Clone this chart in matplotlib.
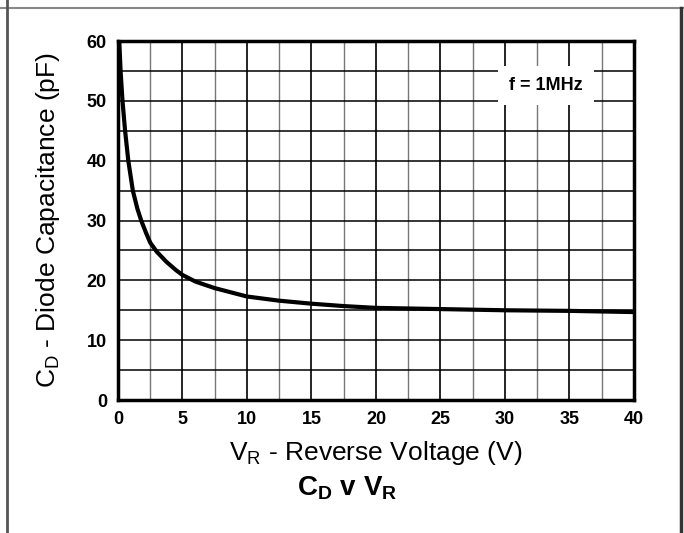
import matplotlib
matplotlib.use("Agg")
import matplotlib.pyplot as plt
from matplotlib.lines import Line2D

# values
voltage = [0.1, 0.2, 0.35, 0.55, 0.8, 1.15, 1.5, 1.8, 2.2, 2.5, 3.0, 3.75,
           4.5, 5.0, 6.0, 7.5, 10.0, 12.5, 15.0, 17.5, 20.0, 25.0, 30.0,
           35.0, 40.0]
capacitance = [60.0, 55.0, 50.0, 45.0, 40.0, 35.0, 32.0, 30.0, 27.8, 26.3,
               24.8, 23.1, 21.7, 20.9, 19.8, 18.7, 17.3, 16.6, 16.1, 15.7,
               15.4, 15.2, 15.0, 14.9, 14.7]
x_ticks = [0, 5, 10, 15, 20, 25, 30, 35, 40]
y_ticks = [0, 10, 20, 30, 40, 50, 60]

plt.rcParams['font.family'] = ['Liberation Sans', 'DejaVu Sans']
plt.rcParams['mathtext.fontset'] = 'custom'
plt.rcParams['mathtext.rm'] = 'Liberation Sans'
plt.rcParams['mathtext.bf'] = 'Liberation Sans:bold'

fig = plt.figure(figsize=(6.84, 5.33), dpi=100)
ax = fig.add_axes([0.1725, 0.2495, 0.7544, 0.6735])

ax.plot(voltage, capacitance, color='black', lw=3.0, solid_capstyle='butt',
        solid_joinstyle='round', zorder=3)

ax.set_xlim(0, 40)
ax.set_ylim(0, 60)
ax.set_xticks(x_ticks)
ax.set_yticks(y_ticks)
ax.set_xticks([v + 2.5 for v in x_ticks[:-1]], minor=True)
ax.set_yticks([v + 5 for v in y_ticks[:-1]], minor=True)
ax.tick_params(which='both', length=0)
ax.tick_params(axis='x', pad=8)
ax.tick_params(axis='y', pad=8)
for lab in ax.get_xticklabels() + ax.get_yticklabels():
    lab.set_fontweight('bold')
    lab.set_fontsize(13)

ax.grid(which='major', axis='x', color='black', lw=1.2)
ax.grid(which='minor', axis='x', color='#777777', lw=1.0)
ax.grid(which='both', axis='y', color='black', lw=1.1)
ax.set_axisbelow(True)
for sp in ax.spines.values():
    sp.set_linewidth(2.5)

ax.set_xlabel(r'V$_\mathregular{R}$ - Reverse Voltage (V)', fontsize=19, labelpad=8)
ax.set_ylabel(r'C$_\mathregular{D}$ - Diode Capacitance (pF)', fontsize=19, labelpad=18)
fig.text(0.5075, 0.085, r'C$_\mathbf{D}$ v V$_\mathbf{R}$', ha='center', va='center',
         fontsize=20, fontweight='bold')

ax.text(33.2, 52.6, 'f = 1MHz', ha='center', va='center', fontsize=13, fontweight='bold',
        bbox=dict(facecolor='white', edgecolor='none', pad=8), zorder=4)

# outer frame of the datasheet box
fig.add_artist(Line2D([0, 1], [1 - 8 / 533, 1 - 8 / 533], color='#888888', lw=1.5))
fig.add_artist(Line2D([7 / 684, 7 / 684], [0, 1], color='#555555', lw=2.0))
fig.add_artist(Line2D([681 / 684, 681 / 684], [0, 1 - 8 / 533], color='#333333', lw=2.5))

fig.savefig('out.png', dpi=100)
